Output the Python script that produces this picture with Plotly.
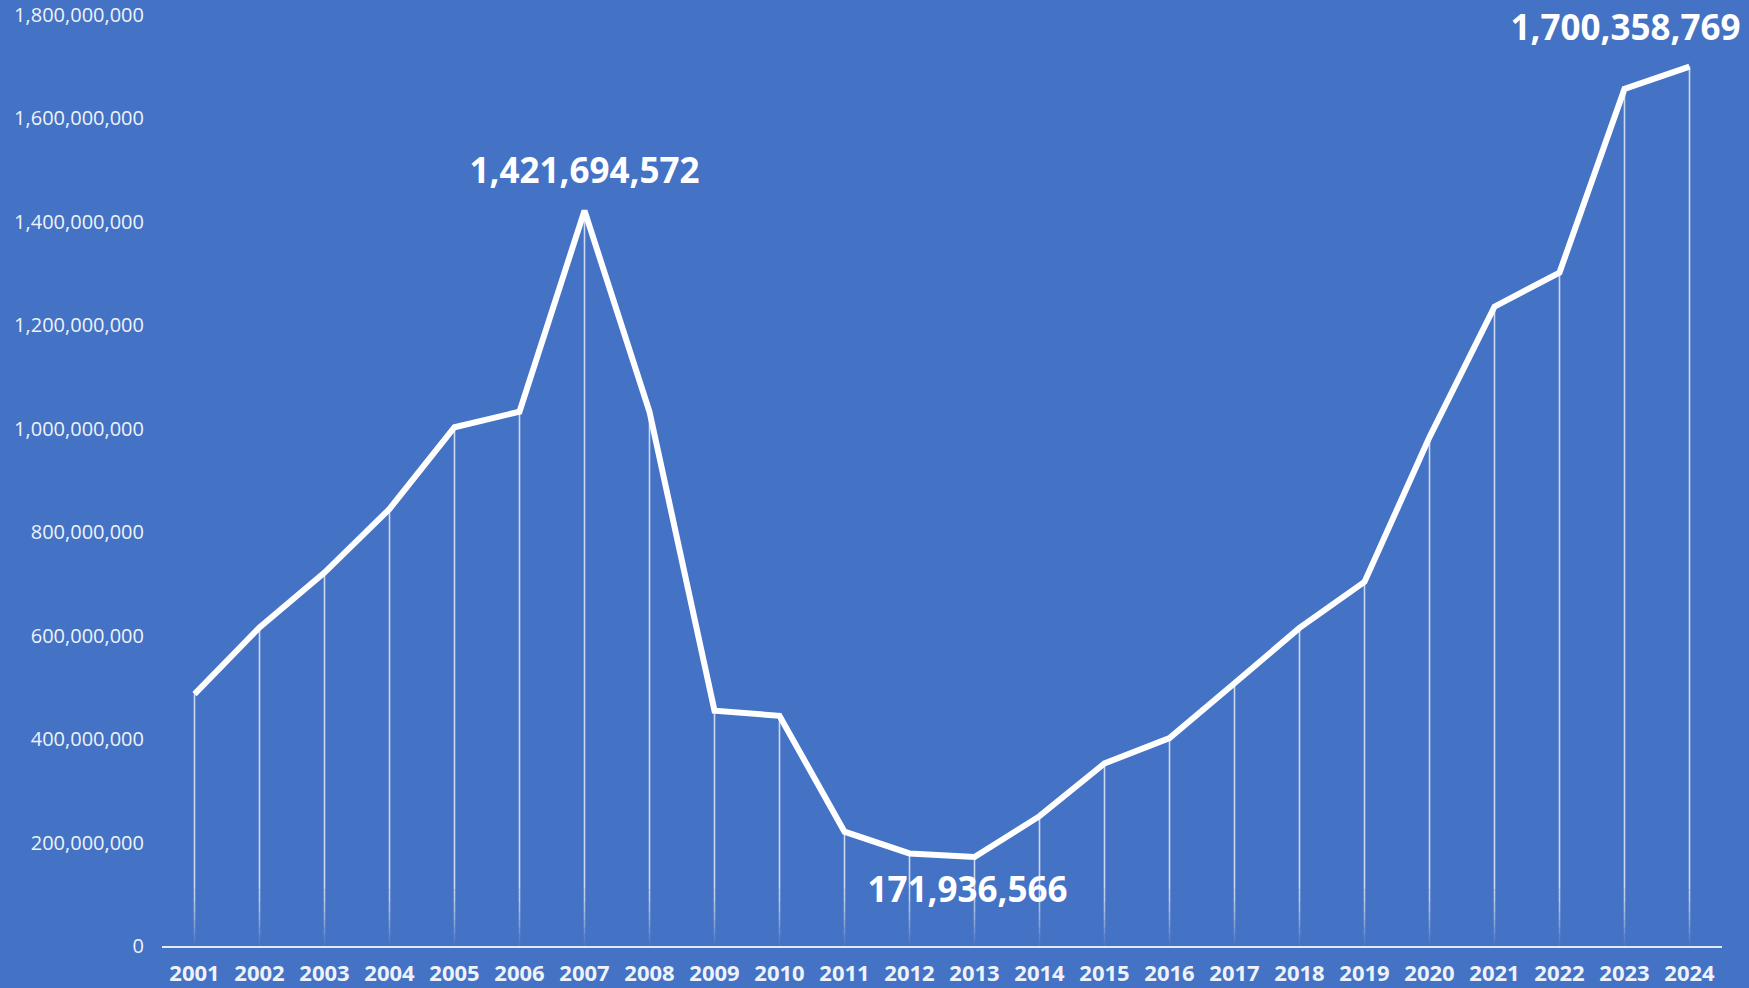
import plotly.graph_objects as go

# Annual totals, 2001-2024
years = [str(y) for y in range(2001, 2025)]
values = [
    487_000_000, 616_000_000, 722_000_000, 845_000_000, 1_003_000_000,
    1_033_000_000, 1_421_694_572, 1_033_000_000, 455_000_000, 445_000_000,
    221_000_000, 179_000_000, 171_936_566, 251_000_000, 353_000_000,
    402_000_000, 508_000_000, 615_000_000, 704_000_000, 984_000_000,
    1_236_000_000, 1_302_000_000, 1_657_000_000, 1_700_358_769,
]

# Highlighted points: (year, label offset x px, label offset y px)
callouts = [("2007", 0, 36), ("2013", -7, -36), ("2024", -64, 35)]

y_ticks = list(range(0, 1_800_000_001, 200_000_000))
Y_MAX = 1_800_000_000

W, H = 1749, 988
MARGIN = dict(l=162, r=27, t=15, b=42)
PLOT_W = W - MARGIN["l"] - MARGIN["r"]
PLOT_H = H - MARGIN["t"] - MARGIN["b"]

BG = "#4472C4"
TEXT = "#EEF2FA"

idx = list(range(len(years)))
fig = go.Figure()

# Drop lines from each point down to the axis, fading out near the bottom
fade_stops = [0, 12e6, 24e6, 36e6, 50e6, 66e6, 85e6, 110e6]
fade_alpha = [0.06, 0.14, 0.24, 0.34, 0.44, 0.54, 0.63]
for i, a in enumerate(fade_alpha):
    lo, hi = fade_stops[i], fade_stops[i + 1]
    xs, ys = [], []
    for k, v in zip(idx, values):
        xs += [k, k, None]
        ys += [lo, min(hi, v), None]
    fig.add_trace(go.Scatter(x=xs, y=ys, mode="lines",
                             line=dict(color=f"rgba(255,255,255,{a})", width=1.6),
                             hoverinfo="skip", showlegend=False))
xs, ys = [], []
for k, v in zip(idx, values):
    xs += [k, k, None]
    ys += [fade_stops[-1], v, None]
fig.add_trace(go.Scatter(x=xs, y=ys, mode="lines",
                         line=dict(color="rgba(255,255,255,0.72)", width=1.6),
                         hoverinfo="skip", showlegend=False))

# Main series
fig.add_trace(go.Scatter(x=idx, y=values, mode="lines",
                         line=dict(color="white", width=6),
                         hovertemplate="%{y:,}<extra></extra>",
                         showlegend=False))

# Value labels on the highlighted points, nudged by pixel offsets
px_per_cat = PLOT_W / len(years)
val_per_px = Y_MAX / PLOT_H
lx, ly, lt = [], [], []
for yr, dx, dy in callouts:
    k = years.index(yr)
    v = values[k]
    lx.append(k + dx / px_per_cat)
    ly.append(v + dy * val_per_px)
    lt.append(f"{v:,}")
fig.add_trace(go.Scatter(x=lx, y=ly, text=lt, mode="text",
                         textposition="middle center", cliponaxis=False,
                         textfont=dict(family="Open Sans", size=35,
                                       color="white", weight="bold"),
                         hoverinfo="skip", showlegend=False))

fig.update_layout(
    width=W, height=H,
    margin=dict(**MARGIN, autoexpand=False),
    paper_bgcolor=BG, plot_bgcolor=BG,
    xaxis=dict(range=[-0.5, len(years) - 0.5], automargin=False,
               tickvals=idx, ticktext=years,
               showgrid=False, zeroline=False,
               showline=True, linecolor="rgba(255,255,255,0.85)", linewidth=2,
               ticks="", ticklabelstandoff=7,
               tickfont=dict(family="Open Sans", size=22, color=TEXT,
                             weight="bold")),
    yaxis=dict(range=[0, Y_MAX], tickvals=y_ticks, automargin=False,
               tickformat=",", showgrid=False, zeroline=False,
               showline=False, ticks="", ticklabelstandoff=17,
               tickfont=dict(family="Open Sans", size=20, color=TEXT)),
    showlegend=False,
)

fig.write_html("out.html")
